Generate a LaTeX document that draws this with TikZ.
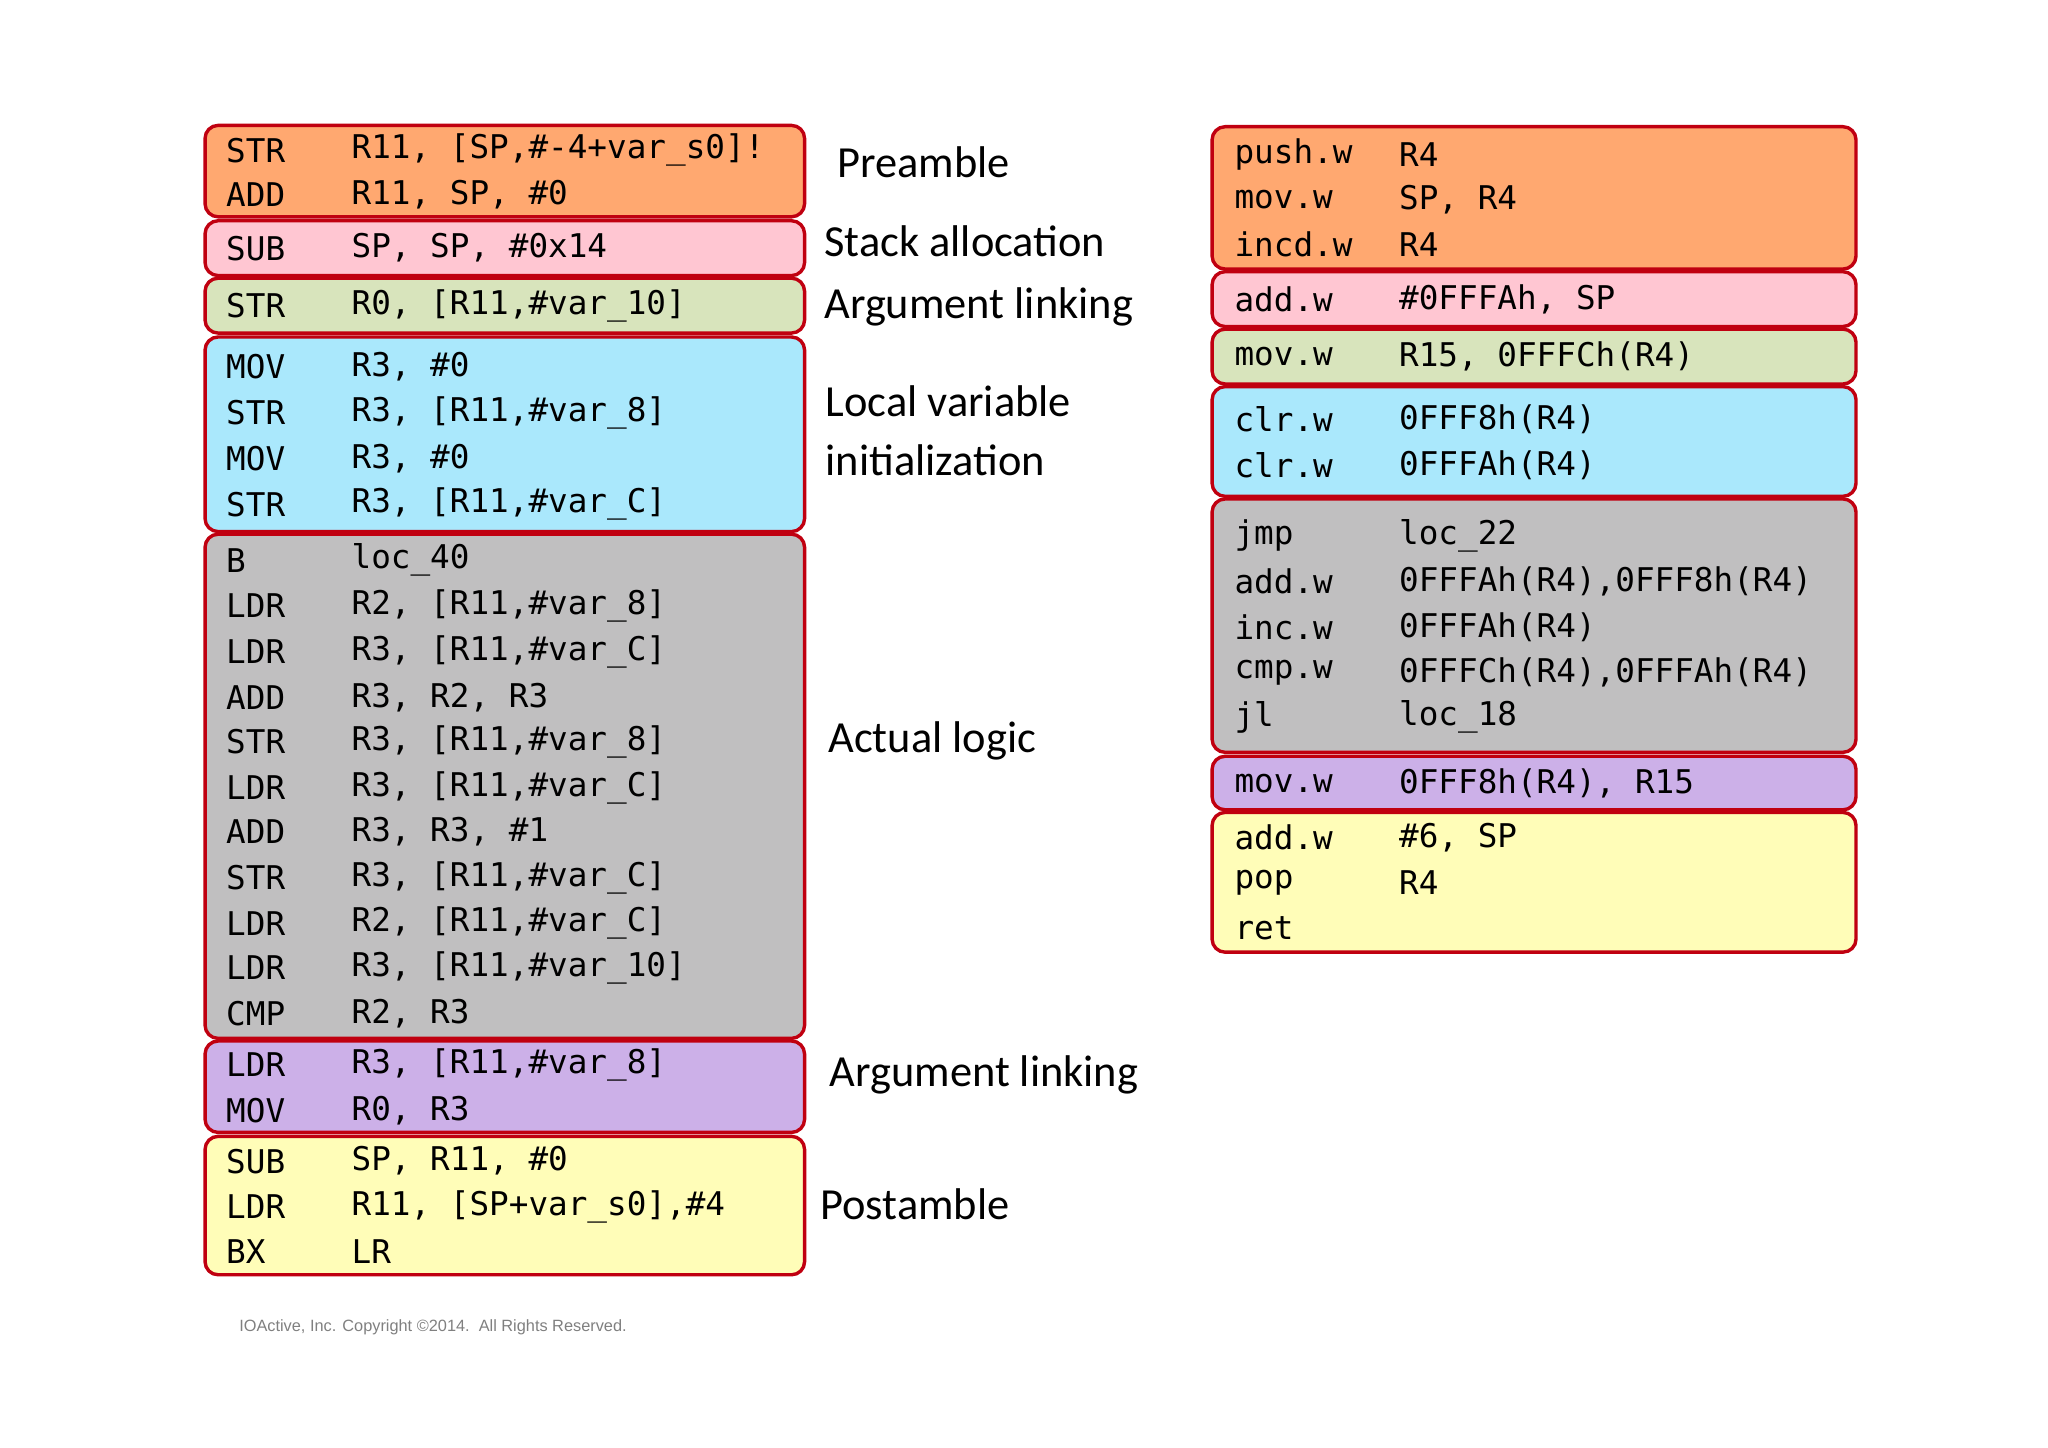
\documentclass[tikz,border=0pt]{standalone}
\usepackage{fontspec}
\setmainfont{Carlito}
\newfontfamily\codefont{DejaVu Sans Mono}
\definecolor{cOr}{HTML}{FFA870}
\definecolor{cPk}{HTML}{FFC6D2}
\definecolor{cGr}{HTML}{D8E4BC}
\definecolor{cCy}{HTML}{AAE8FC}
\definecolor{cGy}{HTML}{C0BFC0}
\definecolor{cPu}{HTML}{CCB0E8}
\definecolor{cYe}{HTML}{FFFDB8}
\definecolor{cBd}{HTML}{C00010}
\begin{document}
\begin{tikzpicture}[x=1pt,y=-1pt,
  blk/.style={draw=cBd,line width=2.6pt,rounded corners=10pt},
  cd/.style={anchor=west,inner sep=0pt,font=\codefont\fontsize{25}{28}\selectfont},
  lbl/.style={anchor=west,inner sep=0pt,font=\fontsize{34}{38}\selectfont}]
\useasboundingbox[fill=white] (0,0) rectangle (1568,1108);
% left blocks
\filldraw[blk,fill=cOr] (157,96) rectangle (616,166);
\filldraw[blk,fill=cPk] (157,169) rectangle (616,211);
\filldraw[blk,fill=cGr] (157,213) rectangle (616,255);
\filldraw[blk,fill=cCy] (157,258) rectangle (616,407);
\filldraw[blk,fill=cGy] (157,409) rectangle (616,795);
\filldraw[blk,fill=cPu] (157,797) rectangle (616,867);
\filldraw[blk,fill=cYe] (157,870) rectangle (616,976);
\foreach \i/\y/\m/\o in {
 a1/115/STR/{R11, [SP,\#-4+var\_s0]!},
 a2/149/ADD/{R11, SP, \#0},
 a3/190/SUB/{SP, SP, \#0x14},
 a4/234/STR/{R0, [R11,\#var\_10]},
 a5/281/MOV/{R3, \#0},
 a6/316/STR/{R3, [R11,\#var\_8]},
 a7/351/MOV/{R3, \#0},
 a8/386/STR/{R3, [R11,\#var\_C]},
 a9/429/B/{loc\_40},
 a10/464/LDR/{R2, [R11,\#var\_8]},
 a11/499/LDR/{R3, [R11,\#var\_C]},
 a12/534/ADD/{R3, R2, R3},
 a13/568/STR/{R3, [R11,\#var\_8]},
 a14/603/LDR/{R3, [R11,\#var\_C]},
 a15/637/ADD/{R3, R3, \#1},
 a16/672/STR/{R3, [R11,\#var\_C]},
 a17/707/LDR/{R2, [R11,\#var\_C]},
 a18/741/LDR/{R3, [R11,\#var\_10]},
 a19/776/CMP/{R2, R3},
 a20/815/LDR/{R3, [R11,\#var\_8]},
 a21/850/MOV/{R0, R3},
 a22/889/SUB/{SP, R11, \#0},
 a23/924/LDR/{R11, [SP+var\_s0],\#4},
 a24/958/BX/{LR}}
{\node[cd] (m\i) at (173,\y) {\m}; \node[cd] (o\i) at (269,\y) {\o};}
% right blocks
\filldraw[blk,fill=cOr] (928,97) rectangle (1421,206);
\filldraw[blk,fill=cPk] (928,208) rectangle (1421,250);
\filldraw[blk,fill=cGr] (928,252) rectangle (1421,294);
\filldraw[blk,fill=cCy] (928,296) rectangle (1421,380);
\filldraw[blk,fill=cGy] (928,382) rectangle (1421,576);
\filldraw[blk,fill=cPu] (928,579) rectangle (1421,620);
\filldraw[blk,fill=cYe] (928,622) rectangle (1421,729);
\foreach \i/\y/\m/\o in {
 b1/118/push.w/{R4},
 b2/153/mov.w/{SP, R4},
 b3/187/incd.w/{R4},
 b4/229/add.w/{\#0FFFAh, SP},
 b5/273/mov.w/{R15, 0FFFCh(R4)},
 b6/321/clr.w/{0FFF8h(R4)},
 b7/356/clr.w/{0FFFAh(R4)},
 b8/410/jmp/{loc\_22},
 b9/445/add.w/{0FFFAh(R4),0FFF8h(R4)},
 b10/480/inc.w/{0FFFAh(R4)},
 b11/515/cmp.w/{0FFFCh(R4),0FFFAh(R4)},
 b12/549/jl/{loc\_18},
 b13/600/mov.w/{0FFF8h(R4), R15},
 b14/641/add.w/{\#6, SP},
 b15/676/pop/{R4},
 b16/711/ret/{}}
{\node[cd] (m\i) at (945,\y) {\m}; \node[cd] (o\i) at (1071,\y) {\o};}
% labels
\node[lbl] (l1) at (641,124) {Preamble};
\node[lbl] (l2) at (631,185) {Stack allocation};
\node[lbl] (l3) at (631,235) {Argument linking};
\node[lbl] (l4) at (632,307) {Local variable};
\node[lbl] (l5) at (632,352) {initialization};
\node[lbl] (l6) at (634,567) {Actual logic};
\node[lbl] (l7) at (635,823) {Argument linking};
\node[lbl] (l8) at (628,922) {Postamble};
\node[anchor=west,inner sep=0pt,text=gray,font=\fontspec{Liberation Sans}\fontsize{12.5}{14}\selectfont] (cp) at (183,1016) {IOActive, Inc. Copyright \textcopyright2014.\ \ All Rights Reserved.};
\end{tikzpicture}
\end{document}
